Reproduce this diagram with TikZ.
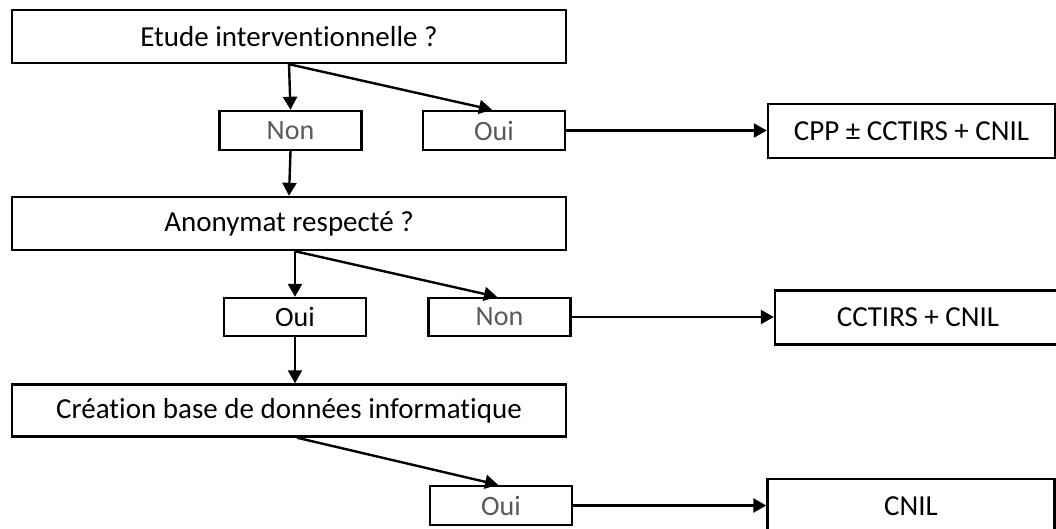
\documentclass[tikz,border=0pt]{standalone}
\usepackage{fontspec}
\setmainfont{Carlito}[Ligatures=NoCommon]
\usetikzlibrary{arrows.meta, positioning, calc}
\tikzset{
  >={Triangle[length=13pt, width=14pt]},
  question/.style = {draw, line width=2.4pt, minimum width=554pt,
                     minimum height=53pt, inner sep=0pt,
                     font=\fontsize{29}{34}\selectfont},
  answer/.style   = {draw, line width=2.4pt, minimum width=142pt,
                     minimum height=38pt, inner sep=0pt,
                     font=\fontsize{28}{33}\selectfont},
  faded/.style    = {answer, text=black!65},
  result/.style   = {draw, line width=2.4pt, minimum width=287pt,
                     minimum height=54pt, inner sep=0pt,
                     font=\fontsize{29}{34}\selectfont},
  arrow/.style    = {->, line width=2.4pt},
}
\begin{document}
\begin{tikzpicture}[x=1pt, y=-1pt]
  \useasboundingbox (0,0) rectangle (1056,528);

  % question 1
  \node[question]                    (etude) at (289, 36.5)   {Etude interventionnelle ?};
  \node[faded, minimum height=39pt]  (non1)  at (290.5, 130.5) {Non};
  \node[faded, minimum height=39pt]  (oui1)  at (494, 130.5)   {Oui};
  \node[result]                      (cpp)   at (911.5, 131)   {CPP ± CCTIRS + CNIL};

  % question 2
  \node[question]                    (anon)   at (289, 223.5)  {Anonymat respecté ?};
  \node[answer]                      (oui2)   at (295, 317)    {Oui};
  \node[faded]                       (non2)   at (499.5, 317)  {Non};
  \node[result, minimum width=286pt] (cctirs) at (918, 317.5)  {CCTIRS + CNIL};

  % question 3
  \node[question, minimum height=52pt] (base) at (289, 410.5)  {Création base de données informatique};
  \node[faded, minimum height=39pt]    (oui3) at (501, 505.5)  {Oui};
  \node[result]                        (cnil) at (911, 506)    {CNIL};

  \coordinate (e0) at (etude.south);
  \draw[arrow] (e0) -- (non1.north);
  \draw[arrow] (e0) -- ($(oui1.north) + (-2, 0)$);
  \draw[arrow] (non1.south) -- (anon.north);

  \coordinate (a0) at ($(anon.south) + (6, 0)$);
  \draw[arrow] (a0) -- (oui2.north);
  \draw[arrow] (a0) -- ($(non2.north) + (-2.5, 0)$);
  \draw[arrow] (oui2.south) -- (oui2.south |- base.north);

  \draw[arrow] ($(base.south) + (8, 0)$) -- ($(oui3.north) + (-3, 0)$);

  \foreach \a/\b in {oui1/cpp, non2/cctirs, oui3/cnil}
    \draw[arrow] (\a.east) -- (\a.east -| \b.west);
\end{tikzpicture}
\end{document}
